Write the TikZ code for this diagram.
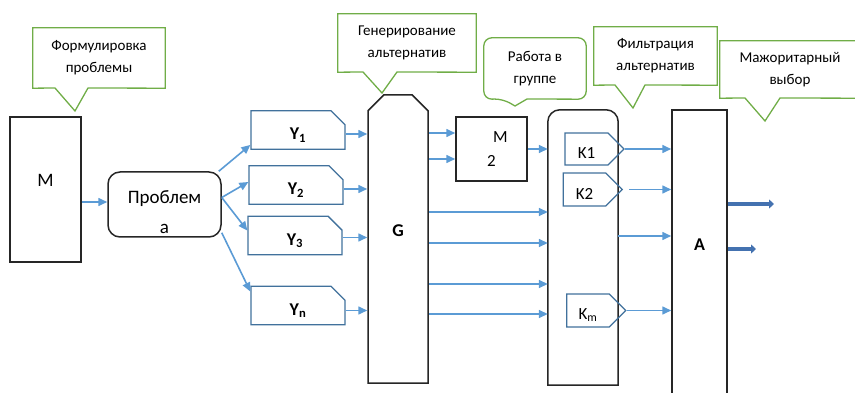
\documentclass[tikz,border=0pt]{standalone}
\usepackage{fontspec}
\setmainfont{Carlito}
\usepackage{tikz}
\usetikzlibrary{shapes,shapes.misc,shapes.symbols,arrows.meta,positioning,calc}
\definecolor{notegreen}{RGB}{112, 173, 71}
\definecolor{flowblue}{RGB}{91, 155, 213}
\definecolor{boxblue}{RGB}{65, 113, 156}
\definecolor{outblue}{RGB}{68, 114, 176}
\definecolor{framegray}{RGB}{38, 38, 38}

\begin{document}
\begin{tikzpicture}[
    x=1pt, y=-1pt,
    note/.style={draw=notegreen, line width=1.3pt, line join=miter},
    notetext/.style={rectangle, inner sep=0pt, align=center, font=\fontsize{15}{22}\selectfont},
    block/.style={rectangle, draw=framegray, line width=1.5pt, fill=white, align=center, inner sep=0pt},
    ybox/.style={chamfered rectangle, chamfered rectangle corners=north east, chamfered rectangle xsep=7pt, chamfered rectangle ysep=7pt, draw=boxblue, line width=1.3pt, minimum width=94pt, minimum height=36pt, inner sep=0pt, font=\fontsize{18}{18}\selectfont\bfseries},
    kbox/.style={signal, signal to=east, signal pointer angle=90, draw=boxblue, line width=1.3pt, minimum width=59pt, minimum height=32pt, inner sep=0pt, font=\fontsize{17}{17}\selectfont},
    arrow/.style={-{Triangle[length=9pt,width=8pt]}, flowblue, line width=1.6pt},
    outarrow/.style={-{Triangle[length=5pt,width=9pt]}, outblue, line width=3.5pt}
]
\useasboundingbox (0,0) rectangle (855,393);

% Main blocks
\node[block, minimum width=71pt, minimum height=145pt, font=\fontsize{19}{19}\selectfont] (mbox) at (45.5,189.5) {M\rule[-18pt]{0pt}{0pt}};
\node[block, rounded corners=12pt, minimum width=113pt, minimum height=65pt, font=\fontsize{19}{30}\selectfont] (prob) at (164.5,204.5) {\rule{0pt}{28pt}Проблем\\а};
\node[block, chamfered rectangle, chamfered rectangle corners={north east, north west}, chamfered rectangle xsep=10pt, chamfered rectangle ysep=9pt, minimum width=60pt, minimum height=288pt, font=\fontsize{18}{18}\selectfont\bfseries] (G) at (398,239) {G\rule[-16pt]{0pt}{0pt}};
\node[block, minimum width=71pt, minimum height=64pt, font=\fontsize{17}{24}\selectfont] (m2) at (491.5,149) {\hspace*{18pt}M\\2};
\node[minimum width=70pt, minimum height=275pt, inner sep=0pt] (kblk) at (583,247.5) {};
\draw[framegray, line width=1.5pt, fill=white] (kblk.south west) -- ([yshift=-12pt]kblk.north west) arc[start angle=180, end angle=90, radius=12pt] -- ([xshift=-12pt]kblk.north east) arc[start angle=90, end angle=0, radius=12pt] -- (kblk.south east) -- cycle;
\node[block, minimum width=55pt, minimum height=290pt, font=\fontsize{18}{18}\selectfont\bfseries] (A) at (699.5,255) {A\rule[-20pt]{0pt}{0pt}};

% Alternatives
\node[ybox] (y1) at (298,130) {\rule{0pt}{22pt}Y\textsubscript{1}};
\node[ybox] (y2) at (296,185) {\rule{0pt}{22pt}Y\textsubscript{2}};
\node[ybox, minimum height=37pt] (y3) at (295,235.5) {\rule{0pt}{22pt}Y\textsubscript{3}};
\node[ybox, minimum height=37pt] (yn) at (298,305.5) {\rule{0pt}{22pt}Y\textsubscript{n}};

% Criteria
\node[kbox] (k1) at (586.5,149) {\rule{0pt}{20pt}K1};
\node[kbox, minimum height=33pt] (k2) at (584.5,189.5) {\rule{0pt}{20pt}K2};
\node[kbox, minimum height=33pt] (km) at (588,310.5) {\rule{0pt}{20pt}K\textsubscript{m}};

% Callouts
\node[notetext, minimum width=132pt, minimum height=60pt] (n1) at (99,58) {Формулировка\\проблемы};
\draw[note] (n1.south west) -- (55,88) -- (75,111) -- (88,88) -- (n1.south east) -- (n1.north east) -- (n1.north west) -- cycle;
\node[notetext, minimum width=138pt, minimum height=58pt] (n2) at (407,43) {Генерирование\\альтернатив};
\draw[note] (n2.south west) -- (363,72) -- (382,93) -- (397,72) -- (n2.south east) -- (n2.north east) -- (n2.north west) -- cycle;
\node[notetext, minimum width=102pt, minimum height=61pt] (n3) at (535,68.5) {Работа в\\группе};
\draw[note, rounded corners=8pt] (n3.west) -- (n3.south west) -- (503,99) [sharp corners] -- (515,106) -- (527,99) [rounded corners=8pt] -- (n3.south east) -- (n3.north east) -- (n3.north west) -- cycle;
\node[notetext, minimum width=123pt, minimum height=58pt] (n4) at (655.5,56) {Фильтрация\\альтернатив};
\draw[note] (n4.south west) -- (615,85) -- (633,108) -- (645,85) -- (n4.south east) -- (n4.north east) -- (n4.north west) -- cycle;
\node[notetext, minimum width=140pt, minimum height=57pt] (n5) at (790,69.5) {Мажоритарный\\выбор};
\draw[note] (n5.south west) -- (745,98) -- (765,121) -- (780,98) -- (n5.south east) -- (n5.north east) -- (n5.north west) -- cycle;

% Problem to alternatives
\draw[arrow] (mbox.east |- 0,202) -- (prob.west |- 0,202);
\draw[arrow] ([xshift=-3pt]prob.north east) -- ([yshift=5pt]y1.south west);
\draw[arrow] ([yshift=7pt]prob.east) -- ([yshift=3pt]y2.west);
\draw[arrow] ([yshift=7pt]prob.east) -- ([yshift=5pt]y3.west);
\draw[arrow] ([yshift=5pt]prob.south east) -- ([yshift=-6pt]yn.north west);

% Alternatives to generator
\draw[arrow] ([yshift=-4pt]y1.east) -- ([yshift=-4pt]y1.east -| G.west);
\draw[arrow] ([yshift=-4pt]y2.east) -- ([yshift=-4pt]y2.east -| G.west);
\draw[arrow] ([yshift=-2pt]y3.east) -- ([yshift=-2pt]y3.east -| G.west);
\draw[arrow] ([yshift=-5pt]yn.east) -- ([yshift=-5pt]yn.east -| G.west);

% Generator to group work and filter
\draw[arrow] (G.east |- 0,133) -- (m2.west |- 0,133);
\draw[arrow] (G.east |- 0,159) -- (m2.west |- 0,159);
\draw[arrow] (m2.east) -- (m2.east -| kblk.west);
\draw[arrow] (G.east |- 0,212) -- (kblk.west |- 0,212);
\draw[arrow] (G.east |- 0,243) -- (kblk.west |- 0,243);
\draw[arrow] (G.east |- 0,284) -- (kblk.west |- 0,284);
\draw[arrow] (G.east |- 0,314) -- (kblk.west |- 0,314);

% Filter to majority choice
\draw[arrow] (k1.east) -- (k1.east -| A.west);
\draw[arrow] ([xshift=6pt]k2.east) -- (k2.east -| A.west);
\draw[arrow] (kblk.east |- 0,236) -- (A.west |- 0,236);
\draw[arrow] (km.east) -- (km.east -| A.west);

% Output
\coordinate (out1) at (774,204);
\coordinate (out2) at (756,249);
\draw[outarrow] (A.east |- out1) -- (out1);
\draw[outarrow] (A.east |- out2) -- (out2);

\end{tikzpicture}
\end{document}
